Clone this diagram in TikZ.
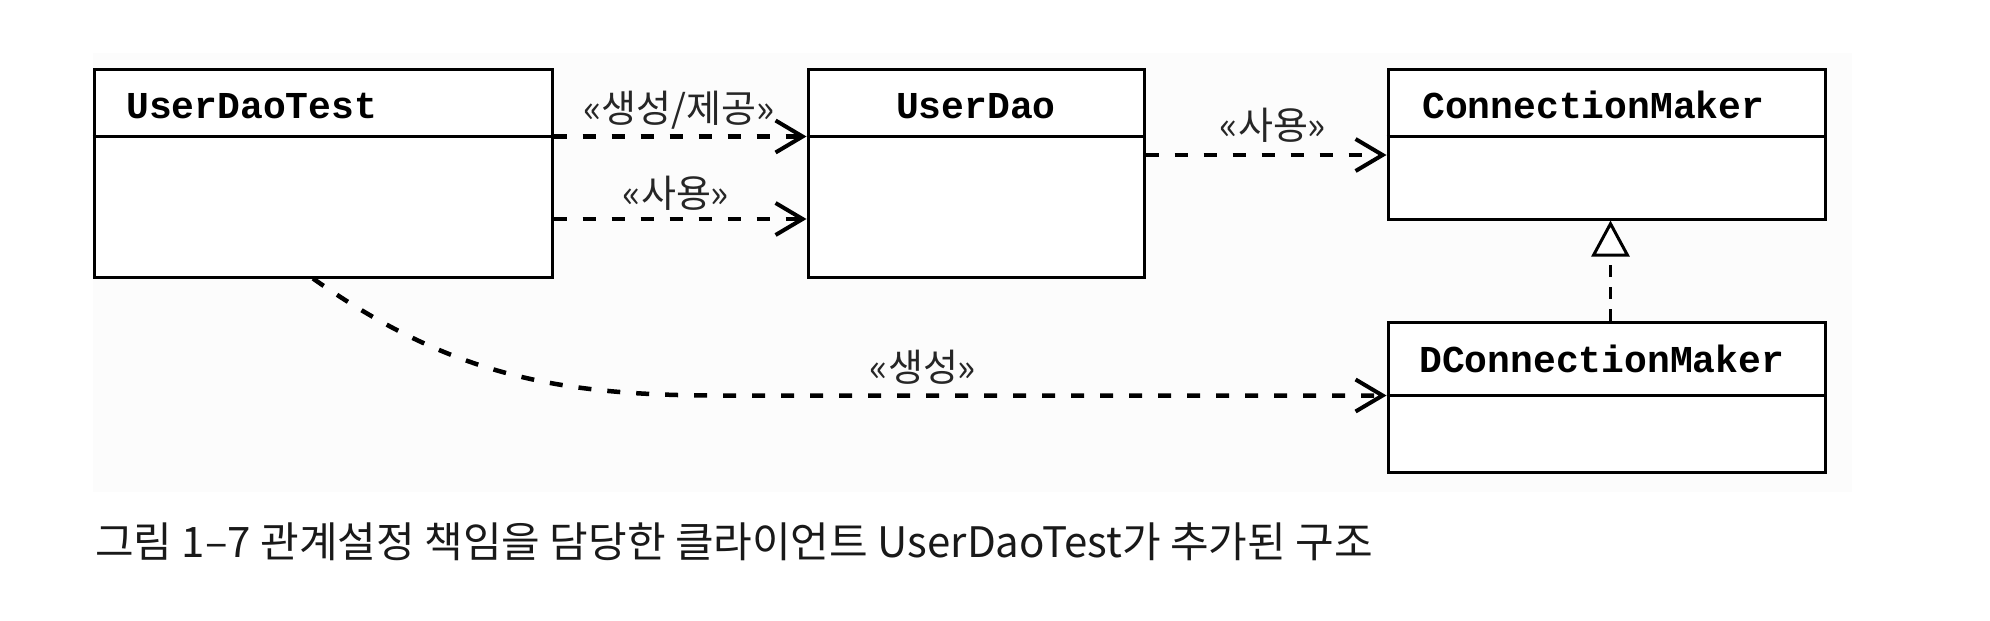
\documentclass[tikz,border=0pt]{standalone}
\usepackage{fontspec}
\usetikzlibrary{arrows.meta,calc}
\newfontfamily\krfont{Noto Sans CJK KR}
\newfontfamily\monofont{Liberation Mono}
\newcommand{\cnamefont}{\monofont\bfseries\fontsize{38}{40}\selectfont}
\newcommand{\lblfont}{\krfont\fontsize{38}{40}\selectfont}
\newcommand{\capfont}{\krfont\fontsize{42}{44}\selectfont}
\tikzset{
  classbox/.style={draw, line width=3pt, inner sep=0pt, fill=white},
  cname/.style={font=\cnamefont, anchor=base west, inner sep=0pt},
  dep/.style={line width=4.5pt, dash pattern=on 13pt off 16pt,
    -{Straight Barb[length=27pt,width=32pt,line width=4pt]}},
  lbl/.style={font=\lblfont, anchor=base, inner sep=0pt, text=black!85},
  realize/.style={line width=3pt, dash pattern=on 12pt off 10pt,
    -{Triangle[open,length=36pt,width=38pt,line width=3pt,fill=white]}},
  divider/.style={line width=3pt}
}
\begin{document}
\begin{tikzpicture}[x=1pt,y=-1pt]
\useasboundingbox (0,0) rectangle (1990,621);
\fill[black!1] (93,53) rectangle (1852,492);
% boxes
\node[classbox, minimum width=458pt, minimum height=208pt] (udt) at (323,173) {};
\node[classbox, minimum width=336pt, minimum height=208pt] (ud) at (976,173) {};
\node[classbox, minimum width=437pt, minimum height=150pt] (cm) at (1606.5,144) {};
\node[classbox, minimum width=437pt, minimum height=150pt] (dcm) at (1606.5,397) {};
% header dividers
\coordinate (udtHL) at ([yshift=-69pt]udt.north west);
\coordinate (udtHR) at ([yshift=-69pt]udt.north east);
\coordinate (udHL) at ([yshift=-69pt]ud.north west);
\coordinate (udHR) at ([yshift=-69pt]ud.north east);
\coordinate (cmHL) at ([yshift=-69pt]cm.north west);
\coordinate (cmHR) at ([yshift=-69pt]cm.north east);
\coordinate (dcmHL) at ([yshift=-75pt]dcm.north west);
\coordinate (dcmHR) at ([yshift=-75pt]dcm.north east);
\draw[divider] (udtHL) -- (udtHR);
\draw[divider] (udHL) -- (udHR);
\draw[divider] (cmHL) -- (cmHR);
\draw[divider] (dcmHL) -- (dcmHR);
% names
\node[cname] (udtname) at (126,118) {UserDaoTest};
\node[font=\cnamefont, anchor=base, inner sep=0pt] (udname) at (976,118) {UserDao};
\node[cname] (cmname) at (1422,118) {ConnectionMaker};
\node[cname] (dcmname) at (1419,372) {DConnectionMaker};
% dependencies
\draw[dep] (udtHR) -- (udHL);
\node[lbl] (l1) at (679,122) {«생성/제공»};
\draw[dep] ([yshift=-46pt]udt.east) -- ([yshift=-46pt]ud.west);
\node[lbl] (l2) at (676,207) {«사용»};
\draw[dep] ([yshift=18pt]ud.east) -- ([yshift=18pt]ud.east -| cm.west);
\node[lbl] (l3) at (1273,139) {«사용»};
\coordinate (bend) at ([xshift=-668pt]dcmHL);
\draw[dep] ([xshift=-10pt]udt.south) .. controls +(138pt,-97pt) and +(-160pt,0pt) .. (bend) -- (dcmHL);
\node[lbl] (l4) at (923,381) {«생성»};
% realization
\draw[realize] ([xshift=4pt]dcm.north) -- ([xshift=4pt]cm.south);
% caption
\node[font=\capfont, anchor=base west, inner sep=0pt, text=black!90] (cap) at (95,557) {그림 1–7 관계설정 책임을 담당한 클라이언트 UserDaoTest가 추가된 구조};
\end{tikzpicture}
\end{document}
